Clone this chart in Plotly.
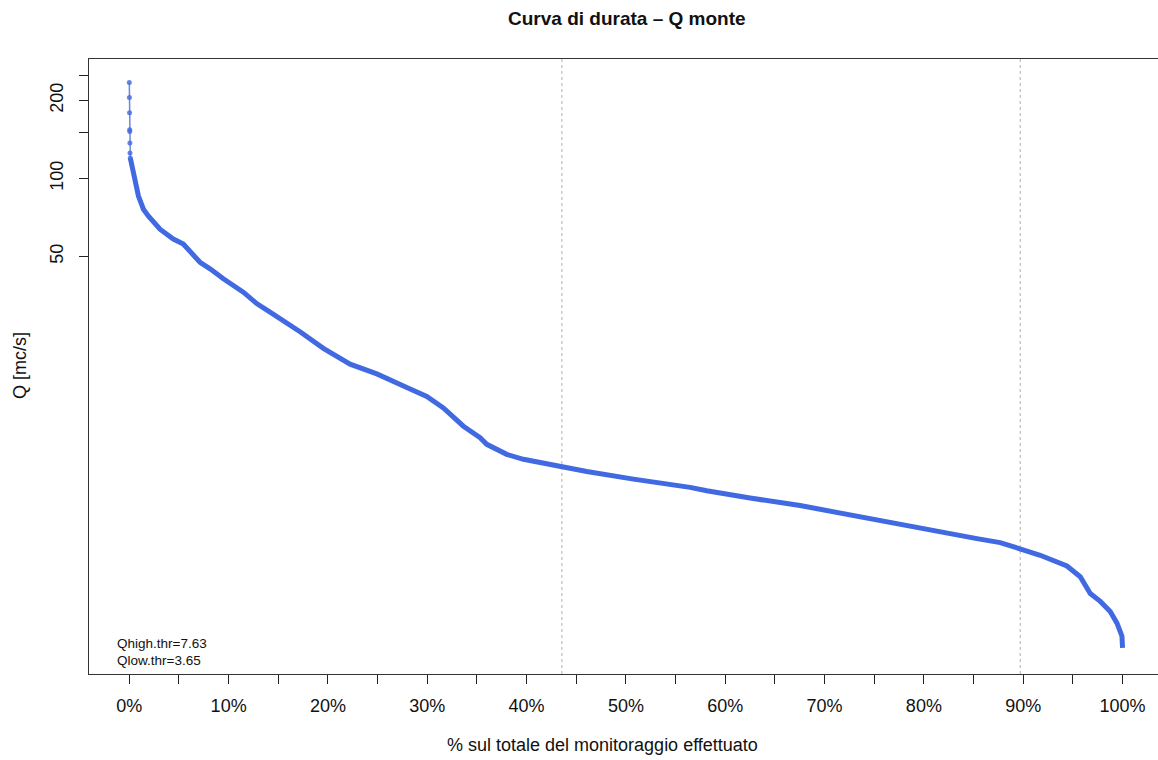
import plotly.graph_objects as go

# ---- data ----
pct_top = [0.0, 0.012, 0.024, 0.036, 0.048, 0.06, 0.072, 0.10]
q_top = [234.9, 205.7, 179.6, 154.1, 151.8, 137.1, 125.5, 120.0]

pct_body = [0.10, 0.3, 0.58, 0.92, 1.42, 1.91, 3.09, 4.43, 5.44, 7.12, 8.13, 9.47,
            11.48, 12.83, 14.17, 16.52, 17.19, 19.54, 20.89, 22.23, 24.92, 26.25,
            27.94, 29.95, 31.62, 33.64, 35.32, 35.99, 38.0, 39.68, 43.54, 46.06,
            50.76, 54.12, 56.46, 58.14, 60.83, 62.5, 67.54, 71.9, 75.93, 80.97,
            85.34, 87.68, 89.70, 91.71, 94.40, 95.74, 96.75, 97.76, 98.76, 99.44,
            99.94, 100.0]
q_body = [120.0, 110.0, 99.0, 85.5, 76.1, 71.7, 63.7, 58.4, 55.8, 47.5, 44.8, 41.0,
          36.4, 32.9, 30.5, 26.8, 25.6, 22.1, 20.5, 19.2, 17.6, 16.6,
          15.6, 14.4, 13.0, 11.06, 9.98, 9.41, 8.61, 8.24, 7.70, 7.39,
          6.91, 6.65, 6.42, 6.23, 5.97, 5.84, 5.46, 5.07, 4.75, 4.34,
          4.07, 3.93, 3.70, 3.51, 3.19, 2.90, 2.50, 2.33, 2.13, 1.92,
          1.71, 1.54]

q_high_thr = 7.63
q_low_thr = 3.65
pct_high_line = 43.55
pct_low_line = 89.70

x_tickvals = list(range(0, 101, 5))
x_ticktext = [f"{v}%" if v % 10 == 0 else "" for v in x_tickvals]
y_tickvals = [50, 100, 150, 200, 250]
y_ticktext = ["50", "100", "", "200", ""]

FONT = "Liberation Sans, Arial, Helvetica, sans-serif"
BLUE = "#4169E1"
BLUE_T = "rgba(65,105,225,0.8)"

fig = go.Figure()
fig.add_trace(go.Scatter(
    x=pct_body, y=q_body, mode="lines",
    line=dict(color=BLUE, width=5),
    showlegend=False, hoverinfo="x+y"))
fig.add_trace(go.Scatter(
    x=pct_top, y=q_top, mode="lines+markers",
    line=dict(color=BLUE_T, width=1.5),
    marker=dict(color=BLUE_T, size=5),
    showlegend=False, hoverinfo="x+y"))

for xv in (pct_high_line, pct_low_line):
    fig.add_shape(type="line", xref="x", yref="paper", x0=xv, x1=xv, y0=0, y1=1,
                  line=dict(color="#C4C4C4", width=1.3, dash="dot"), layer="below")

fig.update_layout(
    width=1158, height=760,
    margin=dict(l=89, r=0, t=59, b=86),
    paper_bgcolor="white", plot_bgcolor="white",
    font=dict(family=FONT, size=18, color="#111"),
    xaxis=dict(range=[-4.058, 103.57], tickvals=x_tickvals, ticktext=x_ticktext,
               ticks="outside", ticklen=9, tickwidth=1.3, tickcolor="#222",
               showline=True, linecolor="#333", linewidth=1.3, mirror=True,
               showgrid=False, zeroline=False, tickfont=dict(size=18),
               ticklabelstandoff=6),
    yaxis=dict(type="log", range=[0.087, 2.4614], tickvals=y_tickvals, ticktext=y_ticktext,
               ticks="outside", ticklen=9, tickwidth=1.3, tickcolor="#222",
               showline=True, linecolor="#333", linewidth=1.3, mirror=False,
               showgrid=False, zeroline=False, tickangle=-90, tickfont=dict(size=18),
               ticklabelstandoff=9),
)

W = 1158 - 89
H = 760 - 59 - 86
def px(xp):
    return (xp - 89) / W
def py(yp):
    return (760 - 86 - yp) / H

fig.add_annotation(x=px(115), y=py(643), xref="paper", yref="paper",
                   text=f"Qhigh.thr={q_high_thr}", showarrow=False,
                   xanchor="left", yanchor="middle", font=dict(size=13.5, family=FONT, color="#111"))
fig.add_annotation(x=px(115), y=py(660), xref="paper", yref="paper",
                   text=f"Qlow.thr={q_low_thr}", showarrow=False,
                   xanchor="left", yanchor="middle", font=dict(size=13.5, family=FONT, color="#111"))
fig.add_annotation(x=px(626.5), y=py(18), xref="paper", yref="paper",
                   text="<b>Curva di durata – Q monte</b>", showarrow=False,
                   xanchor="center", yanchor="middle", font=dict(size=19, family=FONT, color="#111"))
fig.add_annotation(x=px(602), y=py(745), xref="paper", yref="paper",
                   text="% sul totale del monitoraggio effettuato", showarrow=False,
                   xanchor="center", yanchor="middle", font=dict(size=18, family=FONT, color="#111"))
fig.add_annotation(x=px(20), y=py(366), xref="paper", yref="paper",
                   text="Q [mc/s]", showarrow=False, textangle=-90,
                   xanchor="center", yanchor="middle", font=dict(size=18, family=FONT, color="#111"))

fig.write_html("out.html", config={"displayModeBar": False},
               post_script="document.body.style.margin='0';document.body.style.overflow='hidden';")
